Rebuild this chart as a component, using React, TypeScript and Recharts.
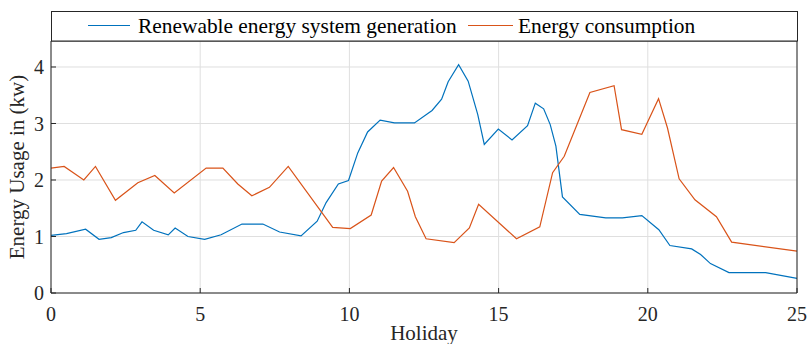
import { LineChart, Line, XAxis, YAxis, CartesianGrid } from 'recharts';

const genX = [0, 0.52, 1.16, 1.61, 2.02, 2.43, 2.84, 3.05, 3.44, 3.93, 4.16, 4.59, 5.15, 5.7, 6.4, 7.1, 7.66, 8.38, 8.92, 9.22, 9.63, 9.97, 10.28, 10.61, 11.03, 11.51, 12.18, 12.77, 13.09, 13.31, 13.66, 13.98, 14.3, 14.52, 14.99, 15.45, 15.97, 16.23, 16.51, 16.73, 16.92, 17.14, 17.72, 18.59, 19.15, 19.8, 20.37, 20.74, 21.47, 21.77, 22.1, 22.72, 23.95, 25];
const genY = [1.02, 1.05, 1.13, 0.95, 0.98, 1.07, 1.11, 1.26, 1.11, 1.03, 1.15, 1.0, 0.95, 1.03, 1.22, 1.22, 1.08, 1.01, 1.27, 1.6, 1.93, 1.99, 2.48, 2.85, 3.06, 3.01, 3.01, 3.23, 3.43, 3.74, 4.04, 3.75, 3.16, 2.63, 2.9, 2.71, 2.96, 3.36, 3.26, 2.98, 2.6, 1.7, 1.39, 1.33, 1.33, 1.37, 1.12, 0.84, 0.78, 0.68, 0.52, 0.36, 0.36, 0.26];

const consX = [0, 0.44, 1.1, 1.49, 2.16, 2.91, 3.48, 4.13, 5.2, 5.76, 6.26, 6.73, 7.32, 7.95, 9.44, 10.03, 10.73, 11.08, 11.48, 11.95, 12.21, 12.57, 13.51, 14.02, 14.33, 15.6, 16.38, 16.81, 17.2, 18.06, 18.87, 19.12, 19.8, 20.36, 20.66, 21.05, 21.58, 22.3, 22.81, 25];
const consY = [2.21, 2.24, 2.0, 2.24, 1.64, 1.95, 2.08, 1.77, 2.21, 2.21, 1.93, 1.72, 1.87, 2.24, 1.16, 1.14, 1.38, 1.98, 2.22, 1.8, 1.35, 0.96, 0.89, 1.15, 1.57, 0.96, 1.17, 2.13, 2.42, 3.55, 3.67, 2.89, 2.81, 3.44, 2.92, 2.02, 1.65, 1.35, 0.9, 0.74];

const xTicks = [0, 5, 10, 15, 20, 25];
const yTicks = [0, 1, 2, 3, 4];
const seriesNames = ['Renewable energy system generation', 'Energy consumption'];

const BLUE = '#0072bd';
const ORANGE = '#d95319';
const AXIS = '#262626';
const FONT = '"Liberation Serif", "Times New Roman", serif';

const genData = genX.map((x, i) => ({ x, y: genY[i] }));
const consData = consX.map((x, i) => ({ x, y: consY[i] }));

const noTick = () => <g />;

export default function App() {
  return (
    <div style={{ position: 'absolute', left: 0, top: 0, width: 807, height: 344, background: '#fff', fontFamily: FONT }}>
      <LineChart width={807} height={344} margin={{ top: 40, right: 9, bottom: 0, left: 0 }}>
        <CartesianGrid stroke="#dfdfdf" strokeWidth={1} />
        <XAxis
          dataKey="x"
          type="number"
          domain={[0, 25]}
          ticks={xTicks}
          height={51}
          stroke={AXIS}
          tickSize={-5}
          tickMargin={19}
          tick={{ fill: AXIS, fontSize: 20, fontFamily: FONT }}
          label={{ value: 'Holiday', position: 'insideBottom', offset: 4, fill: AXIS, fontSize: 21, fontFamily: FONT }}
        />
        <XAxis
          xAxisId="top"
          orientation="top"
          type="number"
          domain={[0, 25]}
          ticks={xTicks}
          height={1}
          stroke={AXIS}
          tickSize={-5}
          tick={noTick}
        />
        <YAxis
          type="number"
          domain={[0, 4.46]}
          ticks={yTicks}
          width={51}
          stroke={AXIS}
          tickSize={-5}
          tickMargin={12}
          tick={{ fill: AXIS, fontSize: 20, fontFamily: FONT }}
          label={{
            value: 'Energy Usage in (kw)',
            angle: -90,
            position: 'insideLeft',
            offset: 17,
            fill: AXIS,
            fontSize: 21,
            fontFamily: FONT,
            style: { textAnchor: 'middle' },
          }}
        />
        <YAxis
          yAxisId="right"
          orientation="right"
          type="number"
          domain={[0, 4.46]}
          ticks={yTicks}
          width={1}
          stroke={AXIS}
          tickSize={-5}
          tick={noTick}
        />
        <Line data={genData} dataKey="y" name={seriesNames[0]} stroke={BLUE} strokeWidth={1.2} dot={false} isAnimationActive={false} />
        <Line data={consData} dataKey="y" name={seriesNames[1]} stroke={ORANGE} strokeWidth={1.2} dot={false} isAnimationActive={false} />
      </LineChart>
      <svg width={807} height={344} style={{ position: 'absolute', left: 0, top: 0, pointerEvents: 'none' }}>
        <rect x={51.5} y={11.5} width={746} height={29.5} fill="#fff" stroke={AXIS} strokeWidth={1} />
        <line x1={88} x2={130} y1={25.5} y2={25.5} stroke={BLUE} strokeWidth={1.2} />
        <text x={138} y={33} fontSize={21.4} fontFamily={FONT} fill="#000">{seriesNames[0]}</text>
        <line x1={468} x2={513} y1={25.5} y2={25.5} stroke={ORANGE} strokeWidth={1.2} />
        <text x={518} y={33} fontSize={21.4} fontFamily={FONT} fill="#000">{seriesNames[1]}</text>
      </svg>
    </div>
  );
}
